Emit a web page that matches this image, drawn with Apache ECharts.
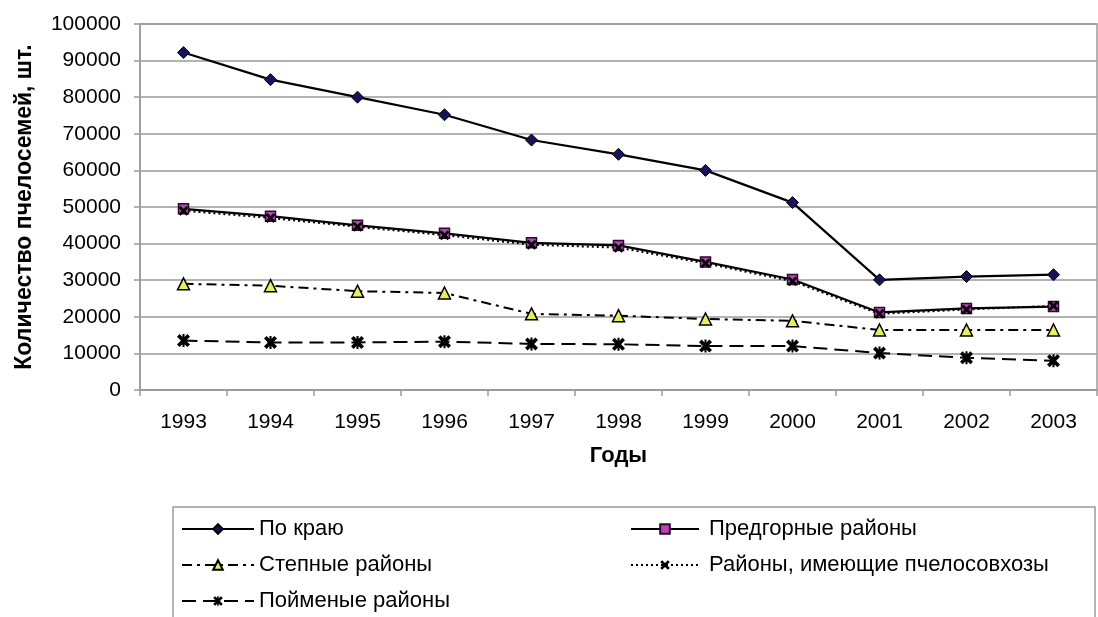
<!DOCTYPE html>
<html>
<head>
<meta charset="utf-8">
<script src="https://cdn.jsdelivr.net/npm/echarts@6/dist/echarts.min.js"></script>
<style>
html,body{margin:0;padding:0;background:#fff;}
#c{width:1098px;height:617px;}
</style>
</head>
<body>
<div id="c"></div>
<script>
const years = ['1993','1994','1995','1996','1997','1998','1999','2000','2001','2002','2003'];
const poKrayu      = [92200, 84800, 80000, 75200, 68300, 64400, 60000, 51200, 30100, 31000, 31500];
const predgornye   = [49500, 47500, 45000, 42800, 40200, 39500, 35000, 30200, 21200, 22300, 22800];
const stepnye      = [29000, 28500, 27000, 26500, 20800, 20300, 19400, 18900, 16400, 16400, 16400];
const pchelosovhoz = [49000, 47000, 44600, 42300, 39700, 38900, 34600, 29700, 20800, 22000, 23000];
const poymenye     = [13500, 13000, 13000, 13200, 12600, 12500, 12000, 12000, 10100, 8800, 8000];

const seriesNames = ['По краю', 'Предгорные районы', 'Степные районы', 'Районы, имеющие пчелосовхозы', 'Пойменые районы'];

const xPath = 'path://M0,2 L2,0 L5,3 L8,0 L10,2 L7,5 L10,8 L8,10 L5,7 L2,10 L0,8 L3,5 Z';
const starPath = 'path://M0,2 L2,0 L5,3 L8,0 L10,2 L7,5 L10,8 L8,10 L5,7 L2,10 L0,8 L3,5 Z M4.2,0 L5.8,0 L5.8,10 L4.2,10 Z';

const FONT = '"Liberation Sans", Arial, sans-serif';

const chart = echarts.init(document.getElementById('c'), null, {renderer: 'canvas'});

function legendItem(name, left, top, w, gap) {
  return {
    data: [name], left: left, top: top, orient: 'horizontal',
    itemWidth: w, itemHeight: 12, itemGap: gap, padding: 0,
    textStyle: {fontFamily: FONT, fontSize: 22, color: '#000', padding: [0, 0, 0, gap - 5]},
    selectedMode: false
  };
}

chart.setOption({
  backgroundColor: '#fff',
  animation: false,
  textStyle: {fontFamily: FONT},
  grid: {left: 140, right: 1, top: 24, bottom: 227, show: true, borderColor: '#9a9a9a', borderWidth: 1.5},
  graphic: [{
    type: 'rect', shape: {x: 173, y: 507, width: 922, height: 130},
    style: {fill: 'none', stroke: '#9a9a9a', lineWidth: 1.5}, silent: true
  }],
  legend: [
    legendItem(seriesNames[0], 181, 518, 72, 5),
    legendItem(seriesNames[2], 181, 554, 72, 5),
    legendItem(seriesNames[4], 181, 590, 72, 5),
    legendItem(seriesNames[1], 630, 518, 68, 10),
    legendItem(seriesNames[3], 630, 554, 68, 10)
  ],
  xAxis: {
    type: 'category', data: years, boundaryGap: true,
    name: 'Годы', nameLocation: 'middle', nameGap: 55,
    nameTextStyle: {fontFamily: FONT, fontSize: 22, fontWeight: 'bold', color: '#000'},
    axisLine: {lineStyle: {color: '#9a9a9a', width: 1.5}},
    axisTick: {show: true, length: 6, lineStyle: {color: '#9a9a9a', width: 1.5}},
    axisLabel: {fontFamily: FONT, fontSize: 21, color: '#000', margin: 22},
    splitLine: {show: false}
  },
  yAxis: {
    type: 'value', min: 0, max: 100000, interval: 10000,
    name: 'Количество пчелосемей, шт.', nameLocation: 'middle', nameGap: 104, nameRotate: 90,
    nameTextStyle: {fontFamily: FONT, fontSize: 23, fontWeight: 'bold', color: '#000'},
    axisLine: {show: true, lineStyle: {color: '#9a9a9a', width: 1.5}},
    axisTick: {show: true, length: 6, lineStyle: {color: '#9a9a9a', width: 1.5}},
    axisLabel: {fontFamily: FONT, fontSize: 21, color: '#000', margin: 19, formatter: v => String(v)},
    splitLine: {show: true, lineStyle: {color: '#9a9a9a', width: 1.5}}
  },
  series: [
    {
      name: seriesNames[0], type: 'line', data: poKrayu,
      symbol: 'diamond', symbolSize: 12,
      lineStyle: {color: '#000', width: 2.2, type: 'solid'},
      itemStyle: {color: '#14145a', borderColor: '#000', borderWidth: 1}
    },
    {
      name: seriesNames[1], type: 'line', data: predgornye,
      symbol: 'rect', symbolSize: 10,
      lineStyle: {color: '#000', width: 2.2, type: 'solid'},
      itemStyle: {color: '#c040c0', borderColor: '#2a0a2a', borderWidth: 1.5}
    },
    {
      name: seriesNames[2], type: 'line', data: stepnye,
      symbol: 'triangle', symbolSize: 12,
      lineStyle: {color: '#000', width: 2, type: [10, 5, 3, 5]},
      itemStyle: {color: '#e6f05a', borderColor: '#000', borderWidth: 1.5}
    },
    {
      name: seriesNames[3], type: 'line', data: pchelosovhoz,
      symbol: xPath, symbolSize: 10,
      lineStyle: {color: '#000', width: 2, type: [2, 3]},
      itemStyle: {color: '#000', borderWidth: 0}
    },
    {
      name: seriesNames[4], type: 'line', data: poymenye,
      symbol: starPath, symbolSize: 13,
      lineStyle: {color: '#000', width: 2, type: [14, 7]},
      itemStyle: {color: '#000', borderWidth: 0}
    }
  ]
});
</script>
</body>
</html>
